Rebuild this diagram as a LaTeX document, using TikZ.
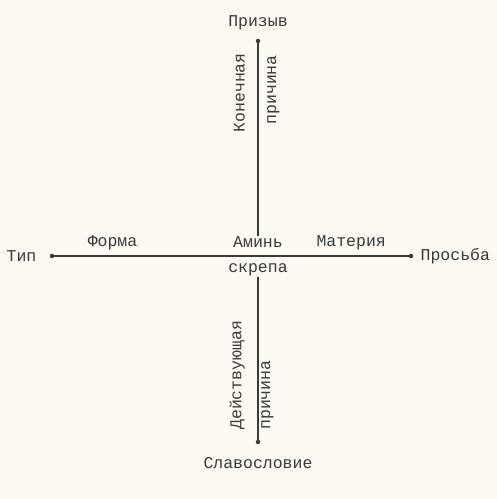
\documentclass[tikz,border=0pt]{standalone}
\usepackage{fontspec}
\setmainfont{Liberation Mono}
\usetikzlibrary{positioning}
\definecolor{paper}{HTML}{FCFAF3}
\definecolor{ink}{HTML}{3A3A3A}

\begin{document}
\begin{tikzpicture}[
  x=1pt, y=1pt,
  font=\fontsize{16.5}{19}\selectfont,
  every node/.style={text=ink},
  dot/.style={circle, fill=ink, inner sep=0pt, minimum size=4.5pt},
  lbl/.style={inner sep=1pt},
  vlbl/.style={inner sep=1pt, rotate=90},
  ln/.style={ink, line width=1.1pt}
]
\fill[paper] (0,0) rectangle (497,499);
\useasboundingbox (0,0) rectangle (497,499);

\node[dot] (top) at (258,458) {};
\node[dot] (bot) at (258,57) {};
\node[dot] (lft) at (52,243) {};
\node[dot] (rgt) at (411,243) {};
\coordinate (mid) at (258,243);

\node[lbl, above=7pt of top] (prizyv) {Призыв};
\node[lbl, below=12pt of bot] (slav) {Славословие};
\node[lbl, left=12pt of lft] (tip) {Тип};
\node[lbl, right=6pt of rgt] (prosba) {Просьба};

\node[lbl, above=7pt of mid] (amin) {Аминь};
\node[lbl, below=6pt of mid] (skrepa) {скрепа};

\node[vlbl, anchor=south east] (konech) at (246,447) {Конечная};
\node[vlbl, anchor=north east] (prich1) at (266,445) {причина};
\node[vlbl, anchor=south west] (deistv) at (246,68) {Действующая};
\node[vlbl, anchor=north west] (prich2) at (260,68) {причина};

\draw[ln] (lft) -- node[lbl, above=5pt, pos=.164] (forma) {Форма}
  node[lbl, above=5pt, pos=.838] (mater) {Материя} (rgt);
\draw[ln] (top) -- (amin);
\draw[ln] (skrepa) -- (bot);
\end{tikzpicture}
\end{document}
